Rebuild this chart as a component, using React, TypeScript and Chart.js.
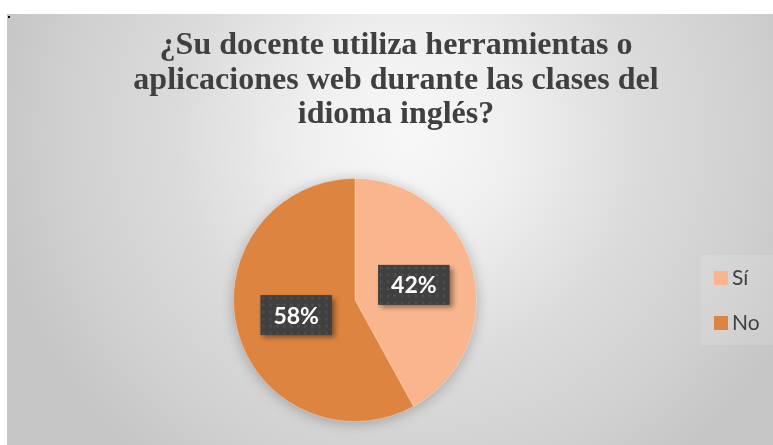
import React, { useEffect, useRef } from "react";
import { Chart, registerables } from "chart.js";

Chart.register(...registerables);

const categories = ["Sí", "No"];
const values = [42, 58];
const sliceColors = ["#F9B58D", "#DD8440"];
const titleLines = [
  "¿Su docente utiliza herramientas o",
  "aplicaciones web durante las clases del",
  "idioma inglés?",
];

const W = 773;
const H = 445;

const backgroundPlugin = {
  id: "bgPlugin",
  beforeDraw(chart: any) {
    const ctx = chart.ctx;
    ctx.save();
    ctx.fillStyle = "#ffffff";
    ctx.fillRect(0, 0, W, H);
    const g = ctx.createRadialGradient(410, 135, 0, 410, 135, 420);
    g.addColorStop(0, "#f8f8f8");
    g.addColorStop(0.25, "#efefef");
    g.addColorStop(0.56, "#dbdbdb");
    g.addColorStop(0.8, "#d1d1d1");
    g.addColorStop(1, "#c6c6c6");
    ctx.fillStyle = g;
    ctx.fillRect(7, 14, W - 7, H - 14);
    ctx.fillStyle = "#000";
    ctx.fillRect(8, 16, 2, 2);
    // title
    ctx.fillStyle = "#404040";
    ctx.font = "bold 32px 'Liberation Serif', 'Times New Roman', serif";
    ctx.textAlign = "center";
    ctx.textBaseline = "alphabetic";
    const baselines = [54, 89, 123];
    titleLines.forEach((t, i) => ctx.fillText(t, 396, baselines[i]));
    // legend panel
    ctx.fillStyle = "rgba(255,255,255,0.12)";
    ctx.fillRect(701, 255, 72, 90);
    ctx.font = "21px Lato, 'Open Sans', sans-serif";
    ctx.textAlign = "left";
    ctx.textBaseline = "middle";
    const ys = [271, 316];
    categories.forEach((c, i) => {
      ctx.fillStyle = sliceColors[i];
      ctx.fillRect(714, ys[i], 14, 14);
      ctx.fillStyle = "#404040";
      ctx.fillText(c, 732, ys[i] + 7);
    });
    ctx.restore();
  },
  beforeDatasetsDraw(chart: any) {
    const meta = chart.getDatasetMeta(0);
    const arc = meta.data[0];
    if (!arc) return;
    const { x, y, outerRadius } = arc.getProps(["x", "y", "outerRadius"], true);
    const ctx = chart.ctx;
    ctx.save();
    ctx.shadowColor = "rgba(0,0,0,0.28)";
    ctx.shadowBlur = 14;
    ctx.shadowOffsetY = 2;
    ctx.fillStyle = "#DD8440";
    ctx.beginPath();
    ctx.arc(x, y, outerRadius - 0.5, 0, Math.PI * 2);
    ctx.fill();
    ctx.restore();
  },
  afterDatasetsDraw(chart: any) {
    const meta = chart.getDatasetMeta(0);
    const ctx = chart.ctx;
    const total = values.reduce((a, b) => a + b, 0);
    meta.data.forEach((arc: any, i: number) => {
      const { x, y, startAngle, endAngle, outerRadius } = arc.getProps(
        ["x", "y", "startAngle", "endAngle", "outerRadius"],
        true
      );
      const mid = (startAngle + endAngle) / 2;
      const r = outerRadius * 0.5;
      const cx = x + Math.cos(mid) * r;
      const cy = y + Math.sin(mid) * r;
      const text = Math.round((values[i] / total) * 100) + "%";
      ctx.save();
      ctx.font = "bold 23px Lato, 'Open Sans', sans-serif";
      const tw = ctx.measureText(text).width;
      const bw = tw + 26;
      const bh = 40;
      const bx = cx - bw / 2;
      const by = cy - bh / 2;
      ctx.shadowColor = "rgba(0,0,0,0.4)";
      ctx.shadowBlur = 5;
      ctx.shadowOffsetX = 3;
      ctx.shadowOffsetY = 3;
      ctx.fillStyle = "#404040";
      ctx.fillRect(bx, by, bw, bh);
      ctx.shadowColor = "transparent";
      ctx.shadowBlur = 0;
      ctx.shadowOffsetX = 0;
      ctx.shadowOffsetY = 0;
      ctx.save();
      ctx.beginPath();
      ctx.rect(bx, by, bw, bh);
      ctx.clip();
      ctx.fillStyle = "rgba(255,255,255,0.07)";
      for (let yy = by + 3; yy < by + bh; yy += 7) {
        for (let xx = bx + 3; xx < bx + bw; xx += 7) {
          ctx.beginPath();
          ctx.arc(xx, yy, 1.6, 0, Math.PI * 2);
          ctx.fill();
        }
      }
      ctx.restore();
      ctx.fillStyle = "#ffffff";
      ctx.textAlign = "center";
      ctx.textBaseline = "middle";
      ctx.fillText(text, cx, cy + 1);
      ctx.restore();
    });
  },
};

export default function App() {
  const ref = useRef<HTMLCanvasElement>(null);
  useEffect(() => {
    document.body.style.margin = "0";
    const canvas = ref.current;
    if (!canvas) return;
    const chart = new Chart(canvas, {
      type: "pie",
      data: {
        labels: categories,
        datasets: [
          {
            data: values,
            backgroundColor: sliceColors,
            borderColor: "rgba(255,255,255,0.3)",
            borderWidth: 1,
          },
        ],
      },
      options: {
        responsive: false,
        animation: false,
        layout: { padding: { left: 233, right: 296, top: 178, bottom: 23 } },
        plugins: {
          legend: { display: false },
          title: { display: false },
          tooltip: { enabled: false },
        },
      },
      plugins: [backgroundPlugin],
    });
    return () => chart.destroy();
  }, []);
  return (
    <div style={{ width: W, height: H }}>
      <canvas ref={ref} width={W} height={H} style={{ display: "block", width: W, height: H }} />
    </div>
  );
}
